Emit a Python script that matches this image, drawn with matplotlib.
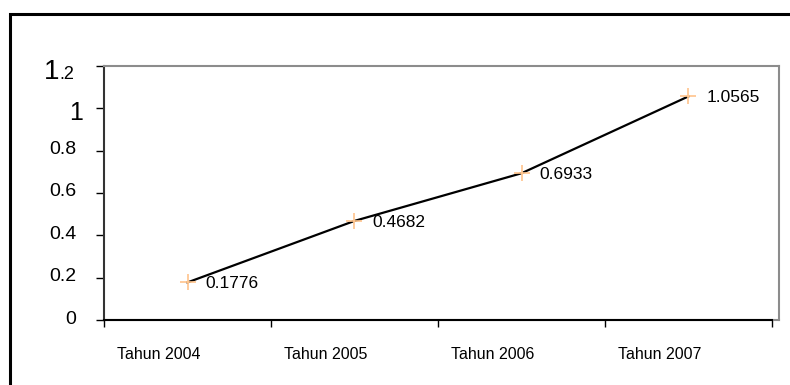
import numpy as np
import matplotlib.pyplot as plt
from matplotlib.patches import Rectangle
from matplotlib.transforms import ScaledTranslation

plt.rcParams["font.family"] = ["Liberation Sans", "DejaVu Sans"]

years = ["Tahun 2004", "Tahun 2005", "Tahun 2006", "Tahun 2007"]
values = [0.1776, 0.4682, 0.6933, 1.0565]
y_ticks = [0, 0.2, 0.4, 0.6, 0.8]
y_tick_labels = ["0", "0.2", "0.4", "0.6", "0.8"]

fig = plt.figure(figsize=(7.9, 3.85), dpi=100)
ax = fig.add_axes([104 / 790, 65 / 385, 675 / 790, 254 / 385])

x = np.arange(len(years)) + 0.5
ax.plot(x, values, color="black", lw=1.6, zorder=2)
ax.plot(x, values, ls="none", marker="+", ms=11, mew=1.2,
        color="#ffc48c", zorder=3)
for xi, v in zip(x, values):
    ax.annotate(f"{v:.4f}", (xi, v), xytext=(13, -1),
                textcoords="offset points", va="center", ha="left",
                fontsize=12.5)

ax.set_xlim(0, 4 * 675 / 668)
ax.set_ylim(0, 1.2)

# category borders on the x axis
ax.set_xticks(np.arange(len(years) + 1))
ax.set_xticklabels([])
ax.tick_params(axis="x", direction="out", length=5, width=1, color="black")
for xi, name in zip(x, years):
    ax.text(xi - 0.17, -0.165, name, ha="center", va="center", fontsize=11.5,
            clip_on=False)

ax.set_yticks(y_ticks + [1.0, 1.2])
ax.set_yticklabels(y_tick_labels + ["", ""], fontsize=14)
ax.tick_params(axis="y", direction="out", length=6, width=1, color="black",
               pad=14)
lift = ScaledTranslation(0, 3 / 100, fig.dpi_scale_trans)
for lbl in ax.get_yticklabels():
    lbl.set_transform(lbl.get_transform() + lift)

# oversized labels at the top of the value axis
ytr = ax.get_yaxis_transform()
ax.text(-0.031, 0.945, "1", transform=ytr, ha="right", va="baseline",
        fontsize=18)
ax.text(-0.066, 1.139, "1", transform=ytr, ha="right", va="baseline",
        fontsize=20)
ax.text(-0.066, 1.139, ".2", transform=ytr, ha="left", va="baseline",
        fontsize=13)

for side in ("top", "right", "bottom"):
    ax.spines[side].set_color("#8c8c8c")
    ax.spines[side].set_linewidth(1.5)
ax.spines["left"].set_color("#333333")
ax.spines["left"].set_linewidth(1.5)
ax.plot([0, 4], [0, 0], color="black", lw=1.5, clip_on=False, zorder=4)

fig.patches.append(Rectangle((10 / 790, -0.1), 1.0, 1.1 - 14 / 385,
                             transform=fig.transFigure, fill=False,
                             edgecolor="black", lw=2.2))

fig.savefig("out.png", dpi=100)
